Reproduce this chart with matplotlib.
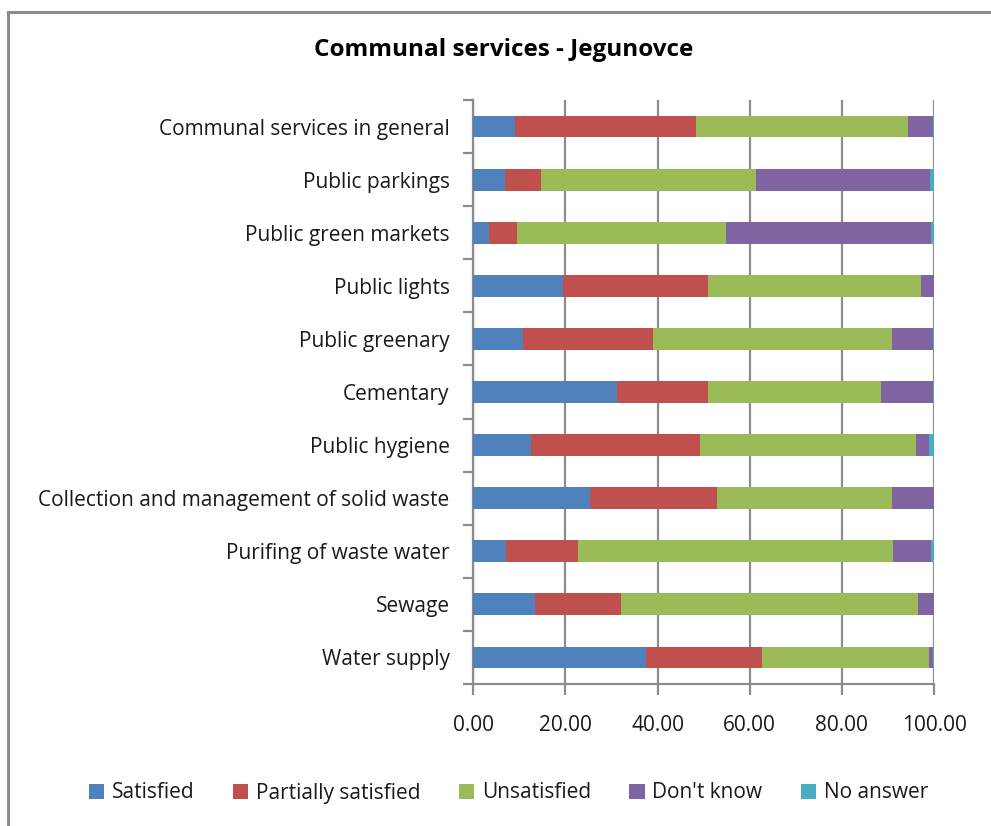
import matplotlib
matplotlib.use("Agg")
import matplotlib.pyplot as plt
from matplotlib.patches import Rectangle
import numpy as np

plt.rcParams['font.family'] = ['Open Sans', 'DejaVu Sans']

categories = [
    "Water supply",
    "Sewage",
    "Purifing of waste water",
    "Collection and management of solid waste",
    "Public hygiene",
    "Cementary",
    "Public greenary",
    "Public lights",
    "Public green markets",
    "Public parkings",
    "Communal services in general",
]

series_names = ["Satisfied", "Partially satisfied", "Unsatisfied", "Don't know", "No answer"]

satisfied = [37.4, 13.5, 7.0, 25.3, 12.6, 31.2, 10.8, 19.5, 3.5, 6.9, 9.0]
partially = [25.3, 18.6, 15.7, 27.6, 36.6, 19.7, 28.2, 31.4, 6.0, 7.8, 39.3]
unsatisfied = [36.2, 64.4, 68.4, 38.0, 47.0, 37.6, 51.9, 46.3, 45.3, 46.6, 46.0]
dont_know = [0.9, 3.4, 8.3, 9.0, 2.7, 11.3, 8.9, 2.7, 44.6, 37.8, 5.5]
no_answer = [0.2, 0.1, 0.6, 0.1, 1.1, 0.2, 0.2, 0.1, 0.6, 0.9, 0.2]

x_ticks = [0, 20, 40, 60, 80, 100]

colors = ["#4F81BD", "#C0504D", "#9BBB59", "#8064A2", "#4BACC6"]

fig = plt.figure(figsize=(9.91, 8.26), dpi=100)
fig.patch.set_facecolor("white")

# outer chart frame
fig.patches.append(Rectangle((8 / 991, -0.05), 1.1, 1 - 12 / 826 + 0.05,
                             transform=fig.transFigure, fill=False,
                             edgecolor="#8c8c8c", linewidth=2.2))

ax = fig.add_axes([473.3 / 991, 1 - 684 / 826, 460.7 / 991, 584 / 826])

y = np.arange(len(categories))
left = np.zeros(len(categories))
for name, vals, c in zip(series_names,
                         [satisfied, partially, unsatisfied, dont_know, no_answer],
                         colors):
    ax.barh(y, vals, left=left, height=0.41, color=c, label=name, zorder=3)
    left += np.array(vals)

ax.set_xlim(0, 100)
ax.set_ylim(-0.5, len(categories) - 0.5)
ax.set_xticks(x_ticks)
ax.set_xticklabels([f"{v:.2f}" for v in x_ticks])
ax.set_yticks(y)
ax.set_yticklabels(categories)
ax.set_yticks(np.arange(-0.5, len(categories), 1.0), minor=True)

ax.grid(axis="x", color="#8c8c8c", linewidth=1.6, zorder=0)
for s in ["top", "right"]:
    ax.spines[s].set_visible(False)
for s in ["left", "bottom"]:
    ax.spines[s].set_color("#8c8c8c")
    ax.spines[s].set_linewidth(1.6)

ax.tick_params(axis="y", which="major", length=0, pad=17, labelsize=15, labelcolor="#1a1a1a")
ax.tick_params(axis="y", which="minor", length=7, width=1.6, color="#8c8c8c")
ax.tick_params(axis="x", length=8, width=1.6, color="#8c8c8c", pad=14,
               labelsize=15, labelcolor="#1a1a1a")

fig.text(0.508, 1 - 50 / 826, "Communal services - Jegunovce",
         ha="center", va="center", fontsize=17.5, fontweight="bold",
         family=["Liberation Sans Narrow", "Open Sans", "DejaVu Sans"])

leg = fig.legend(loc="center", bbox_to_anchor=(0.513, 1 - 793 / 826), ncol=5,
                 frameon=False, fontsize=15, handlelength=0.75, handleheight=0.75,
                 handletextpad=0.35, columnspacing=1.85)
for t in leg.get_texts():
    t.set_color("#1a1a1a")

fig.savefig("out.png", dpi=100, facecolor="white")
